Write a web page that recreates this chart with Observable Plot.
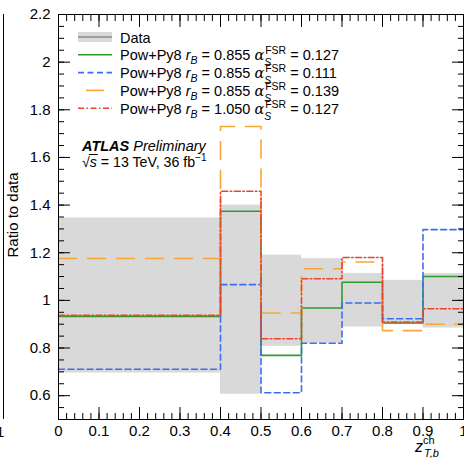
<!DOCTYPE html>
<html>
<head>
<meta charset="utf-8">
<script src="https://cdn.jsdelivr.net/npm/d3@7"></script>
<script src="https://cdn.jsdelivr.net/npm/@observablehq/plot@0.6"></script>
<style>
  html, body { margin: 0; padding: 0; background: #fff; }
  #chart svg { font-family: "Liberation Sans", Arial, Helvetica, sans-serif; }
</style>
</head>
<body>
<div id="chart"></div>
<script>
// Bin edges of z_T,b^ch
const edges = [0, 0.4, 0.5, 0.6, 0.7, 0.8, 0.9, 1.0];
// Data uncertainty band (ratio to data)
const dataLow  = [0.695, 0.606, 0.807, 0.820, 0.888, 0.898, 0.884];
const dataHigh = [1.346, 1.400, 1.190, 1.175, 1.113, 1.084, 1.113];
// MC predictions (ratio to data)
const nominal = [0.933, 1.374, 0.769, 0.968, 1.076, 0.905, 1.100]; // rB=0.855, aS=0.127
const fsrLow  = [0.711, 1.066, 0.612, 0.820, 0.989, 0.923, 1.297]; // rB=0.855, aS=0.111
const fsrHigh = [1.176, 1.730, 0.947, 1.133, 1.161, 0.873, 0.900]; // rB=0.855, aS=0.139
const rb105   = [0.937, 1.458, 0.839, 1.091, 1.180, 0.909, 0.965]; // rB=1.050, aS=0.127

const seriesNames = ["nominal", "fsrLow", "fsrHigh", "rb105"];
const legendRB = ["0.855", "0.855", "0.855", "1.050"];
const legendAS = ["0.127", "0.111", "0.139", "0.127"];

const xTicks = [0, 0.1, 0.2, 0.3, 0.4, 0.5, 0.6, 0.7, 0.8, 0.9, 1];
const yTicks = [0.6, 0.8, 1, 1.2, 1.4, 1.6, 1.8, 2, 2.2];
const xMinor = d3.range(0, 101, 2).map(d => d / 100);
const yMinor = d3.range(50, 221, 5).map(d => d / 100);

const styles = {
  nominal: {stroke: "#2e9b2e", dash: null},
  fsrLow:  {stroke: "#3b6ff0", dash: "6,3.5"},
  fsrHigh: {stroke: "#f8a737", dash: "18,11"},
  rb105:   {stroke: "#e8452c", dash: "6,2.5,1.5,2.5"}
};
const valuesBy = {nominal, fsrLow, fsrHigh, rb105};

const band = dataLow.map((lo, i) => ({x1: edges[i], x2: edges[i + 1], lo, hi: dataHigh[i]}));
function steps(v) {
  const pts = v.map((y, i) => ({x: edges[i], y}));
  pts.push({x: edges[edges.length - 1], y: v[v.length - 1]});
  return pts;
}

const fmt = d3.format("~g");
const blank = () => "";

const plot = Plot.plot({
  width: 464,
  height: 458,
  marginLeft: 58,
  marginRight: 1,
  marginTop: 14,
  marginBottom: 39,
  style: {fontSize: "15px", fontFamily: "Liberation Sans, Arial, Helvetica, sans-serif", color: "#000", background: "#fff"},
  x: {domain: [0, 1]},
  y: {domain: [0.5, 2.2]},
  marks: [
    Plot.rect(band, {x1: "x1", x2: "x2", y1: "lo", y2: "hi", fill: "#d9d9d9"}),
    ...["nominal", "fsrLow", "fsrHigh", "rb105"].map(k =>
      Plot.line(steps(valuesBy[k]), {x: "x", y: "y", curve: "step-after",
        stroke: styles[k].stroke, strokeWidth: 1.6, strokeDasharray: styles[k].dash})
    ),
    Plot.frame({stroke: "#000", strokeWidth: 1}),
    Plot.axisX({anchor: "bottom", ticks: xTicks, tickSize: -12, tickPadding: 18, tickFormat: fmt, label: null}),
    Plot.axisX({anchor: "bottom", ticks: xMinor, tickSize: -6, tickFormat: blank, label: null}),
    Plot.axisX({anchor: "top", ticks: xTicks, tickSize: -12, tickFormat: blank, label: null}),
    Plot.axisX({anchor: "top", ticks: xMinor, tickSize: -6, tickFormat: blank, label: null}),
    Plot.axisY({anchor: "left", ticks: yTicks, tickSize: -12, tickPadding: 20, tickFormat: fmt, label: null}),
    Plot.axisY({anchor: "left", ticks: yMinor, tickSize: -6, tickFormat: blank, label: null}),
    Plot.axisY({anchor: "right", ticks: yTicks, tickSize: -12, tickFormat: blank, label: null}),
    Plot.axisY({anchor: "right", ticks: yMinor, tickSize: -6, tickFormat: blank, label: null})
  ]
});

document.getElementById("chart").appendChild(plot);

// Annotations: legend, ATLAS label, axis titles
const svg = d3.select(plot);
const g = svg.append("g")
  .attr("font-family", "Liberation Sans, Arial, Helvetica, sans-serif")
  .attr("font-size", 14.5).attr("fill", "#000").attr("text-anchor", "start");

const lx1 = 78, lx2 = 112, tx = 120, row0 = 37, rowH = 17.8;
// Data entry
g.append("rect").attr("x", lx1).attr("y", row0 - 5).attr("width", lx2 - lx1).attr("height", 10).attr("fill", "#d9d9d9");
g.append("line").attr("x1", lx1).attr("x2", lx2).attr("y1", row0).attr("y2", row0).attr("stroke", "#888").attr("stroke-width", 1.6);
g.append("text").attr("x", tx).attr("y", row0 + 5.5).text("Data");

seriesNames.forEach((k, i) => {
  const y = row0 + rowH * (i + 1);
  const st = styles[k];
  const ln = g.append("line").attr("x1", lx1).attr("x2", lx2).attr("y1", y).attr("y2", y)
    .attr("stroke", st.stroke).attr("stroke-width", 1.6);
  if (st.dash) ln.attr("stroke-dasharray", st.dash);
  if (k === "fsrHigh") ln.attr("x1", lx1 + 8).attr("x2", lx1 + 26).attr("stroke-dasharray", null);
  const t = g.append("text").attr("x", tx).attr("y", y + 5.5);
  t.append("tspan").text("Pow+Py8 ");
  t.append("tspan").attr("font-style", "italic").text("r");
  t.append("tspan").attr("font-style", "italic").attr("font-size", 10.5).attr("dy", 4).text("B");
  t.append("tspan").attr("dy", -4).text(" = " + legendRB[i] + " ");
  t.append("tspan").attr("font-style", "italic").attr("font-family", "DejaVu Serif, serif").text("α");
  const xa = t.node().getComputedTextLength() + tx;
  t.append("tspan").attr("font-style", "italic").attr("font-size", 10.5).attr("dy", 6).text("S");
  t.append("tspan").attr("font-size", 10.5).attr("x", xa + 1).attr("dy", -12).text("FSR");
  t.append("tspan").attr("dy", 6).text(" = " + legendAS[i]);
});

// ATLAS Preliminary
const at = g.append("text").attr("x", 82).attr("y", 151).attr("font-size", 14.5);
at.append("tspan").attr("font-weight", "bold").attr("font-style", "italic").text("ATLAS");
at.append("tspan").attr("font-style", "italic").text(" Preliminary");
const en = g.append("text").attr("x", 82).attr("y", 167).attr("font-size", 14.2);
en.append("tspan").text("√");
en.append("tspan").attr("font-style", "italic").text("s");
en.append("tspan").text(" = 13 TeV, 36 fb");
en.append("tspan").attr("font-size", 10).attr("dy", -6).text("−1");
// overline for sqrt
const sqrtW = 82 + (function() { const tmp = g.append("text").attr("font-size", 14.2).text("√"); const w = tmp.node().getComputedTextLength(); tmp.remove(); return w; })();
g.append("line").attr("x1", sqrtW - 1).attr("x2", sqrtW + 8).attr("y1", 154.5).attr("y2", 154.5).attr("stroke", "#000").attr("stroke-width", 1);

// Y axis title
g.append("text").attr("transform", "translate(18,215) rotate(-90)").attr("text-anchor", "middle").attr("font-size", 15).text("Ratio to data");

// X axis title z^ch_{T,b}
const xt = g.append("text").attr("x", 415).attr("y", 452).attr("font-size", 16);
xt.append("tspan").attr("font-style", "italic").text("z");
xt.append("tspan").attr("font-size", 11).attr("dy", -8).text("ch");
xt.append("tspan").attr("font-size", 11).attr("font-style", "italic").attr("x", 424).attr("dy", 13).text("T,b");

// Fragment of the neighbouring panel at the left edge
g.append("line").attr("x1", 3.5).attr("x2", 3.5).attr("y1", 14).attr("y2", 419).attr("stroke", "#000").attr("stroke-width", 1);
g.append("text").attr("x", -4).attr("y", 437).attr("font-size", 15).text("1");
</script>
</body>
</html>
